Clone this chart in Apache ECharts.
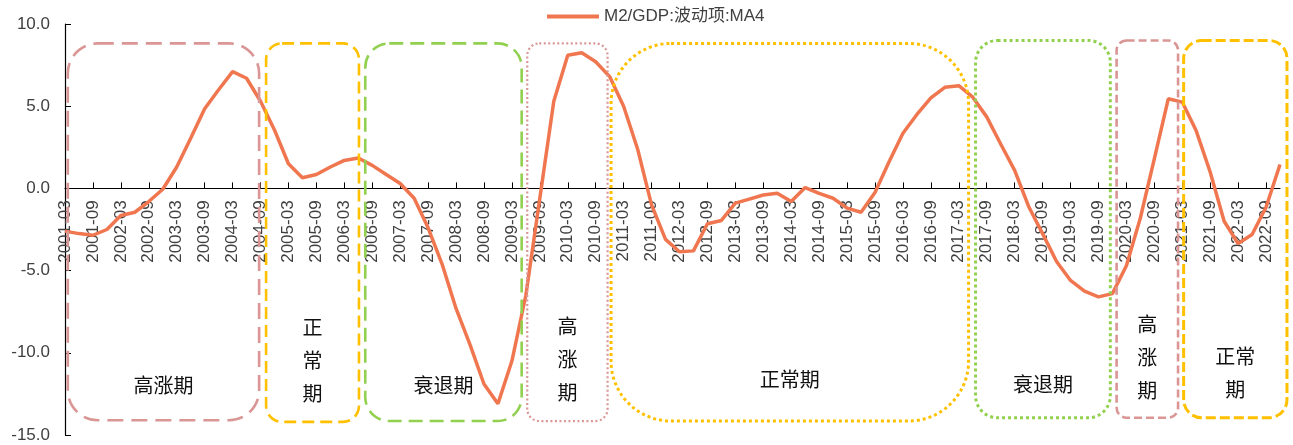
<!DOCTYPE html>
<html>
<head>
<meta charset="utf-8">
<script src="https://cdn.jsdelivr.net/npm/echarts@6/dist/echarts.min.js"></script>
<style>
  html, body { margin: 0; padding: 0; background: #fff; }
  #chart { width: 1293px; height: 445px; }
</style>
</head>
<body>
<div id="chart"></div>
<script>
// Quarterly periods, 2001-03 .. 2022-12
const quarters = [
  '2001-03','2001-06','2001-09','2001-12','2002-03','2002-06','2002-09','2002-12',
  '2003-03','2003-06','2003-09','2003-12','2004-03','2004-06','2004-09','2004-12',
  '2005-03','2005-06','2005-09','2005-12','2006-03','2006-06','2006-09','2006-12',
  '2007-03','2007-06','2007-09','2007-12','2008-03','2008-06','2008-09','2008-12',
  '2009-03','2009-06','2009-09','2009-12','2010-03','2010-06','2010-09','2010-12',
  '2011-03','2011-06','2011-09','2011-12','2012-03','2012-06','2012-09','2012-12',
  '2013-03','2013-06','2013-09','2013-12','2014-03','2014-06','2014-09','2014-12',
  '2015-03','2015-06','2015-09','2015-12','2016-03','2016-06','2016-09','2016-12',
  '2017-03','2017-06','2017-09','2017-12','2018-03','2018-06','2018-09','2018-12',
  '2019-03','2019-06','2019-09','2019-12','2020-03','2020-06','2020-09','2020-12',
  '2021-03','2021-06','2021-09','2021-12','2022-03','2022-06','2022-09','2022-12'
];

// M2/GDP cyclical component, 4-quarter moving average
const m2gdpCycle = [
  -2.6, -2.75, -2.85, -2.5, -1.65, -1.45, -0.8, -0.05,
  1.3, 3.05, 4.85, 6.0, 7.1, 6.7, 5.3, 3.55,
  1.5, 0.65, 0.85, 1.3, 1.7, 1.85, 1.4, 0.85,
  0.3, -0.6, -2.4, -4.6, -7.3, -9.5, -11.9, -13.1,
  -10.5, -6.5, -0.6, 5.3, 8.1, 8.25, 7.7, 6.8,
  5.0, 2.4, -1.0, -3.1, -3.85, -3.8, -2.15, -1.95,
  -0.9, -0.65, -0.4, -0.3, -0.8, 0.05, -0.3, -0.6,
  -1.2, -1.45, -0.25, 1.6, 3.35, 4.5, 5.5, 6.15,
  6.25, 5.55, 4.35, 2.7, 1.1, -1.1, -2.75, -4.45,
  -5.6, -6.25, -6.6, -6.4, -4.7, -1.8, 1.8, 5.45,
  5.25, 3.5, 1.0, -2.0, -3.35, -2.8, -1.15, 1.45
];

const seriesName = 'M2/GDP:波动项:MA4';
const yTicks = { min: -15, max: 10, step: 5 };

// Cycle phases, as spans over the quarter index
const phaseNames  = ['高涨期', '正\n常\n期', '衰退期', '高\n涨\n期', '正常期', '衰退期', '高\n涨\n期', '正常\n期'];
const phaseStart  = [0.2, 14.4, 21.5, 33.1, 39.1, 65.2, 75.3, 80.1];
const phaseEnd    = [13.9, 21.05, 32.7, 38.85, 64.7, 74.85, 79.7, 87.5];

// Drawing style of each phase frame
const ROSE = '#D99694', GOLD = '#FFC000', GREEN = '#92D050';
const frameStyle = [
  { color: ROSE,  width: 2.6, dash: [16, 8], r: 30, top: 8.82, bottom: -14.1, textY: -12.0 },
  { color: GOLD,  width: 2.6, dash: [12, 6], r: 16, top: 8.82, bottom: -14.2, textY: -10.45 },
  { color: GREEN, width: 2.6, dash: [14, 7], r: 24, top: 8.82, bottom: -14.15, textY: -12.0 },
  { color: ROSE,  width: 2.2, dash: [2, 2.5], r: 12, top: 8.82, bottom: -14.15, textY: -10.4 },
  { color: GOLD,  width: 3,   dash: [3, 3], r: 60, top: 8.82, bottom: -14.15, textY: -11.6 },
  { color: GREEN, width: 3,   dash: [3, 3], r: 22, top: 9.0, bottom: -13.95, textY: -11.9 },
  { color: ROSE,  width: 2.6, dash: [8, 4], r: 10, top: 9.0, bottom: -13.95, textY: -10.3 },
  { color: GOLD,  width: 3,   dash: [10, 4], r: 18, top: 9.0, bottom: -13.95, textY: -11.2 }
];

const LABEL_FONT = '"Liberation Sans", Arial, "Noto Sans CJK SC", sans-serif';
const TEXT_COLOR = '#404040';
const LINE_COLOR = '#F0764F';

const GRID = { left: 65, right: 13, top: 24, bottom: 10 };
const CHART_H = 445;
// the category axis sits on the zero line: shift it up from the grid bottom
const plotH = CHART_H - GRID.top - GRID.bottom;
const zeroShift = plotH * (0 - yTicks.min) / (yTicks.max - yTicks.min);

const chart = echarts.init(document.getElementById('chart'), null, { renderer: 'canvas' });

const option = {
  animation: false,
  backgroundColor: '#ffffff',
  legend: {
    data: [{ name: seriesName, icon: 'rect' }],
    left: 542,
    top: 3,
    itemWidth: 52,
    itemHeight: 4,
    itemGap: 6,
    textStyle: { fontSize: 17, color: TEXT_COLOR, fontFamily: LABEL_FONT }
  },
  grid: Object.assign({ containLabel: false, outerBoundsMode: 'none' }, GRID),
  xAxis: [
    {
      type: 'category',
      data: quarters,
      boundaryGap: false,
      position: 'bottom',
      offset: -zeroShift,
      axisLine: { onZero: false, lineStyle: { color: '#000', width: 1.2 } },
      axisTick: { show: true, inside: true, length: 6, interval: 1, lineStyle: { color: '#000' } },
      axisLabel: {
        interval: 1,
        rotate: 90,
        margin: 12,
        fontSize: 17,
        color: TEXT_COLOR,
        fontFamily: LABEL_FONT
      },
      splitLine: { show: false }
    },
    {
      type: 'value',
      min: 0,
      max: quarters.length - 1,
      show: false
    }
  ],
  yAxis: {
    type: 'value',
    min: yTicks.min,
    max: yTicks.max,
    interval: yTicks.step,
    axisLine: { show: true, lineStyle: { color: '#000', width: 1.2 } },
    axisTick: { show: true, inside: true, length: 6, lineStyle: { color: '#000' } },
    axisLabel: {
      fontSize: 17,
      color: TEXT_COLOR,
      fontFamily: LABEL_FONT,
      margin: 15,
      formatter: v => v.toFixed(1)
    },
    splitLine: { show: false }
  },
  series: [
    {
      name: seriesName,
      type: 'line',
      data: m2gdpCycle,
      symbol: 'none',
      smooth: false,
      z: 3,
      lineStyle: { color: LINE_COLOR, width: 3.5 },
      itemStyle: { color: LINE_COLOR }
    },
    {
      name: 'phases',
      type: 'custom',
      xAxisIndex: 1,
      yAxisIndex: 0,
      z: 4,
      silent: true,
      clip: false,
      data: phaseNames.map((n, i) => [phaseStart[i], phaseEnd[i], i]),
      encode: { x: [0, 1] },
      renderItem: function (params, api) {
        const i = api.value(2);
        const st = frameStyle[i];
        const p1 = api.coord([api.value(0), st.top]);
        const p2 = api.coord([api.value(1), st.bottom]);
        const ty = api.coord([0, st.textY])[1];
        return {
          type: 'group',
          children: [
            {
              type: 'rect',
              shape: { x: p1[0], y: p1[1], width: p2[0] - p1[0], height: p2[1] - p1[1], r: st.r },
              style: { fill: 'none', stroke: st.color, lineWidth: st.width, lineDash: st.dash }
            },
            {
              type: 'text',
              x: (p1[0] + p2[0]) / 2,
              y: ty,
              style: {
                text: phaseNames[i],
                fill: '#111',
                font: '20px "Noto Sans CJK SC", sans-serif',
                align: 'center',
                verticalAlign: 'middle',
                lineHeight: 33
              }
            }
          ]
        };
      }
    }
  ]
};

chart.setOption(option);
</script>
</body>
</html>
